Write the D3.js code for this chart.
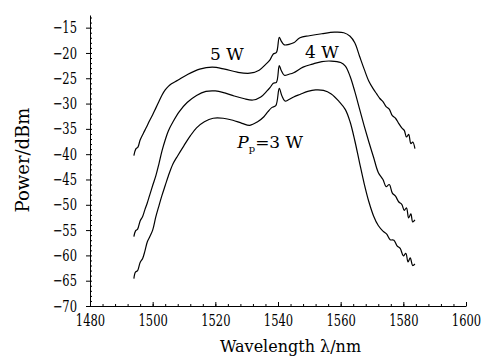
<!DOCTYPE html>
<html>
<head>
<meta charset="utf-8">
<script src="https://cdn.jsdelivr.net/npm/d3@7"></script>
<style>
  body { margin: 0; background: #fff; }
  svg { display: block; }
  .axis path, .axis line { stroke: #000; stroke-width: 1; }
  text { font-family: "DejaVu Serif", serif; fill: #000; }
</style>
</head>
<body>
<svg id="chart" width="493" height="356"></svg>
<script>
// wavelength (nm) and power (dBm), one pair per pump power
const wl5 = [1494, 1494.6, 1495.3, 1496, 1497, 1498, 1499, 1500, 1501, 1502, 1503, 1504, 1505, 1506, 1508, 1511, 1515, 1519, 1523, 1527, 1531, 1534, 1536, 1537.5, 1538.5, 1539.5, 1540.4, 1541, 1542, 1543.5, 1545, 1547, 1550, 1554, 1558, 1561, 1563, 1564.5, 1566, 1567.5, 1569, 1570.5, 1571.5, 1572.5, 1573.5, 1574.5, 1575.5, 1576.5, 1577.5, 1578.5, 1579.5, 1580.3, 1581, 1581.7, 1582.4, 1583, 1583.7];
const p5 = [-40.3, -39.0, -38.6, -37.2, -35.9, -34.7, -33.4, -32.2, -30.9, -29.6, -28.3, -27.3, -26.6, -26.1, -25.4, -24.3, -23.2, -22.8, -23.2, -23.8, -24.0, -23.4, -22.3, -21.3, -20.2, -19.9, -16.9, -17.6, -18.4, -18.3, -18.0, -17.0, -16.6, -16.2, -15.9, -16.0, -16.7, -18.0, -20.6, -23.2, -25.6, -27.2, -28.1, -29.0, -29.6, -30.6, -31.1, -32.4, -32.9, -33.9, -34.8, -35.3, -36.6, -36.1, -37.9, -37.6, -38.9];

const wl4 = [1494, 1494.5, 1495.2, 1496, 1496.8, 1497.5, 1498.3, 1499, 1500, 1501, 1502, 1503, 1504, 1505, 1506.5, 1508.5, 1511, 1514, 1517, 1520, 1523, 1526, 1529, 1532, 1534.5, 1536.5, 1537.5, 1538.5, 1539.5, 1540.4, 1541, 1542, 1543.5, 1545, 1548, 1551, 1554, 1557, 1560, 1561.5, 1563, 1564.5, 1566, 1567.5, 1569, 1570.5, 1572, 1573.5, 1574.5, 1575.5, 1576.5, 1577.5, 1578.5, 1579.5, 1580.3, 1581, 1581.7, 1582.4, 1583, 1583.7];
const p4 = [-56.3, -55.2, -54.8, -53.2, -52.3, -51.0, -49.6, -48.2, -46.2, -44.3, -41.9, -39.3, -37.2, -35.4, -33.6, -31.6, -29.8, -28.4, -27.6, -27.5, -27.9, -28.5, -29.0, -29.3, -28.7, -27.5, -26.8, -26.0, -25.8, -22.5, -23.4, -24.4, -24.2, -23.9, -22.8, -22.2, -21.7, -21.6, -21.9, -22.6, -24.6, -27.6, -31.0, -34.4, -37.6, -40.6, -43.6, -45.0, -46.4, -46.0, -47.7, -48.3, -49.4, -49.9, -51.1, -50.6, -52.6, -51.8, -53.4, -53.0];

const wl3 = [1494, 1494.5, 1495.2, 1496, 1496.8, 1497.5, 1498.3, 1499, 1500, 1501, 1502, 1503, 1504, 1505, 1506.5, 1508, 1510, 1512, 1514, 1516.5, 1519.3, 1522.5, 1525.6, 1528.5, 1531, 1533.5, 1535.5, 1536.8, 1538, 1539.3, 1540.4, 1541.2, 1542.2, 1543.5, 1545, 1547, 1549.5, 1552, 1554.5, 1557, 1559.5, 1561.5, 1563, 1564.5, 1566, 1567.5, 1569, 1570.5, 1572, 1573.5, 1574.7, 1575.8, 1577, 1578, 1579, 1580, 1580.8, 1581.5, 1582.2, 1583, 1583.7];
const p3 = [-64.6, -63.3, -63.0, -61.4, -60.6, -59.2, -57.3, -56.4, -55.0, -52.4, -50.2, -48.1, -46.2, -44.3, -41.9, -40.3, -38.3, -36.4, -34.8, -33.6, -32.9, -32.9, -33.3, -33.9, -34.3, -33.6, -32.6, -31.6, -30.8, -30.4, -27.0, -28.4, -29.5, -29.2, -28.7, -28.2, -27.6, -27.3, -27.4, -28.1, -29.6, -31.2, -33.6, -37.3, -41.6, -45.8, -49.4, -52.2, -54.1, -55.2, -55.8, -56.9, -57.0, -58.1, -58.6, -60.1, -59.6, -61.3, -60.5, -62.0, -61.7];

const xTicks = [1480, 1500, 1520, 1540, 1560, 1580, 1600];
const yTicks = [-70, -65, -60, -55, -50, -45, -40, -35, -30, -25, -20, -15];

const margin = {top: 15, right: 27, bottom: 50, left: 90};
const svg = d3.select("#chart");
const width = 493 - margin.left - margin.right;
const height = 356 - margin.top - margin.bottom;

const g = svg.append("g")
    .attr("transform", `translate(${margin.left},${margin.top})`);

const x = d3.scaleLinear().domain([1480, 1600]).range([0, width]);
const y = d3.scaleLinear().domain([-70, -12.5]).range([height, 0]);

const sx = 0.72; // tick numbers are narrow in the original

// minor ticks
g.append("g")
    .attr("class", "axis")
    .attr("transform", `translate(0,${height})`)
    .call(d3.axisBottom(x).tickValues(d3.range(1480, 1601, 4)).tickSize(-2).tickFormat(""))
    .call(a => a.select(".domain").remove());
g.append("g")
    .attr("class", "axis")
    .call(d3.axisLeft(y).tickValues(d3.range(-70, -12, 1)).tickSize(-2).tickFormat(""))
    .call(a => a.select(".domain").remove());

// major ticks
g.append("g")
    .attr("class", "axis")
    .attr("transform", `translate(0,${height})`)
    .call(d3.axisBottom(x).tickValues(xTicks).tickSizeInner(-4).tickSizeOuter(0)
        .tickPadding(8).tickFormat(d3.format("d")))
    .call(a => a.selectAll("text")
        .attr("font-size", 16)
        .attr("dy", "0.75em")
        .attr("transform", `scale(${sx},1)`));

g.append("g")
    .attr("class", "axis")
    .call(d3.axisLeft(y).tickValues(yTicks).tickSizeInner(4).tickSizeOuter(0)
        .tickFormat(d => "\u2212" + Math.abs(d)))
    .call(a => a.selectAll("text")
        .attr("font-size", 16)
        .attr("x", -13 / sx)
        .attr("transform", `scale(${sx},1)`));

const line = d3.line()
    .x(d => x(d[0]))
    .y(d => y(d[1]))
    .curve(d3.curveCatmullRom.alpha(0.5));

const series = [d3.zip(wl5, p5), d3.zip(wl4, p4), d3.zip(wl3, p3)];

g.append("g")
    .selectAll("path")
    .data(series)
    .join("path")
    .attr("d", line)
    .attr("fill", "none")
    .attr("stroke", "#000")
    .attr("stroke-width", 1.2);

// curve labels
g.append("text")
    .attr("x", x(1523.7))
    .attr("y", y(-21.3))
    .attr("text-anchor", "middle")
    .attr("font-size", 17)
    .text("5 W");

g.append("text")
    .attr("x", x(1554))
    .attr("y", y(-21.0))
    .attr("text-anchor", "middle")
    .attr("font-size", 17)
    .text("4 W");

const pl = g.append("text")
    .attr("x", x(1527))
    .attr("y", y(-38.8))
    .attr("font-size", 17);
pl.append("tspan").attr("font-style", "italic").text("P");
pl.append("tspan").attr("font-size", 10).attr("dy", 4).text("p");
pl.append("tspan").attr("dy", -4).text("=3 W");

// axis titles
svg.append("text")
    .attr("x", margin.left + x(1544))
    .attr("y", 352)
    .attr("text-anchor", "middle")
    .attr("font-size", 16)
    .text("Wavelength \u03bb/nm");

svg.append("text")
    .attr("transform", `translate(29,${160}) rotate(-90)`)
    .attr("text-anchor", "middle")
    .attr("font-size", 18)
    .text("Power/dBm");
</script>
</body>
</html>
